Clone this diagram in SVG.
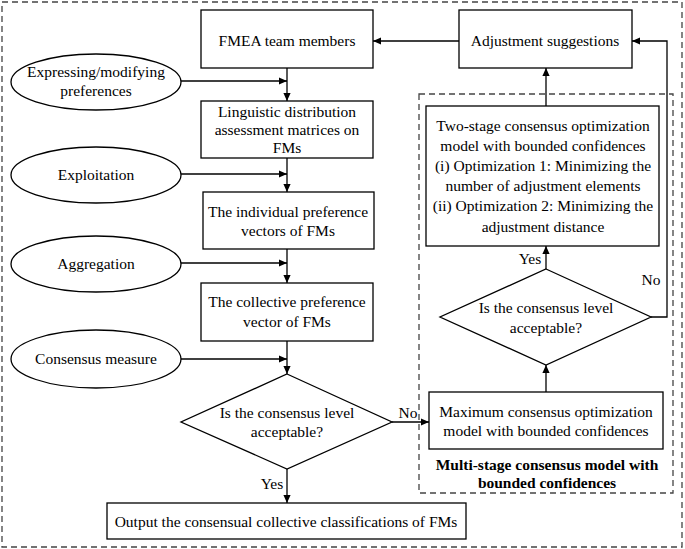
<svg xmlns="http://www.w3.org/2000/svg" width="685" height="549" viewBox="0 0 685 549">
<style>
text{font-family:"Liberation Serif","Times New Roman",serif;font-size:15.5px;fill:#000;text-anchor:middle}
.b{fill:#fff;stroke:#000;stroke-width:1.3}
.d{fill:none;stroke:#444;stroke-width:1.3;stroke-dasharray:6,4}
.c{fill:none;stroke:#000;stroke-width:1.3;marker-end:url(#ah)}
.bold{font-weight:bold}
</style>
<defs>
<marker id="ah" viewBox="0 0 10 10" refX="10" refY="5" markerWidth="8" markerHeight="8" markerUnits="userSpaceOnUse" orient="auto">
<path d="M0,0.5 L10,5 L0,9.5 z" fill="#000"/>
</marker>
</defs>
<rect x="2" y="2" width="680" height="545" class="d"/>
<rect id="group-multistage" x="419" y="94" width="254" height="399" class="d"/>
<g id="connectors">
<path class="c" d="M459,41 H373"/>
<path class="c" d="M287,68 V101"/>
<path class="c" d="M181,81 H287"/>
<path class="c" d="M287,158 V192"/>
<path class="c" d="M181,174 H287"/>
<path class="c" d="M287,249 V283"/>
<path class="c" d="M181,263 H287"/>
<path class="c" d="M287,341 V374"/>
<path class="c" d="M181,359 H287"/>
<path class="c" d="M287,469 V503"/>
<path class="c" d="M392,422 H429"/>
<path class="c" d="M546,392 V365"/>
<path class="c" d="M546,269 V246"/>
<path class="c" d="M546,106 V68"/>
<path class="c" d="M651,317 H667 V41 H632"/>
<text x="272" y="489">Yes</text>
<text x="408" y="418">No</text>
<text x="530" y="264">Yes</text>
<text x="651" y="285">No</text>
</g>
<g id="fmea-team">
<rect class="b" x="201" y="10" width="172" height="58"/>
<text x="287" y="46">FMEA team members</text>
</g>
<g id="adjustment">
<rect class="b" x="459" y="10" width="173" height="58"/>
<text x="545" y="46">Adjustment suggestions</text>
</g>
<g id="expressing">
<ellipse class="b" cx="96" cy="82" rx="85" ry="28"/>
<text x="96" y="77">Expressing/modifying</text>
<text x="96" y="96">preferences</text>
</g>
<g id="linguistic">
<rect class="b" x="201" y="101" width="172" height="57"/>
<text x="287" y="117">Linguistic distribution</text>
<text x="287" y="135">assessment matrices on</text>
<text x="287" y="153">FMs</text>
</g>
<g id="exploitation">
<ellipse class="b" cx="96" cy="175" rx="85" ry="28"/>
<text x="96" y="180">Exploitation</text>
</g>
<g id="individual">
<rect class="b" x="203" y="192" width="171" height="57"/>
<text x="288" y="217">The individual preference</text>
<text x="288" y="236">vectors of FMs</text>
</g>
<g id="aggregation">
<ellipse class="b" cx="96" cy="264" rx="85" ry="28"/>
<text x="96" y="269">Aggregation</text>
</g>
<g id="collective">
<rect class="b" x="201" y="283" width="172" height="58"/>
<text x="287" y="307">The collective preference</text>
<text x="287" y="327">vector of FMs</text>
</g>
<g id="consensus-measure">
<ellipse class="b" cx="96" cy="359" rx="85" ry="29"/>
<text x="96" y="364">Consensus measure</text>
</g>
<g id="decision1">
<polygon class="b" points="287,374 392,422 287,469 181,422"/>
<text x="287" y="418">Is the consensus level</text>
<text x="287" y="437">acceptable?</text>
</g>
<g id="output">
<rect class="b" x="107" y="503" width="359" height="36"/>
<text x="286" y="527">Output the consensual collective classifications of FMs</text>
</g>
<g id="maximum">
<rect class="b" x="429" y="392" width="234" height="57"/>
<text x="546" y="417">Maximum consensus optimization</text>
<text x="546" y="436">model with bounded confidences</text>
</g>
<g id="decision2">
<polygon class="b" points="546,269 651,317 546,365 440,317"/>
<text x="546" y="313">Is the consensus level</text>
<text x="546" y="333">acceptable?</text>
</g>
<g id="two-stage">
<rect class="b" x="426" y="106" width="233" height="140"/>
<text x="543" y="131">Two-stage consensus optimization</text>
<text x="543" y="151">model with bounded confidences</text>
<text x="543" y="171">(i) Optimization 1: Minimizing the</text>
<text x="543" y="191">number of adjustment elements</text>
<text x="543" y="211">(ii) Optimization 2: Minimizing the</text>
<text x="543" y="232">adjustment distance</text>
</g>
<g id="multistage-label">
<text class="bold" x="547" y="470">Multi-stage consensus model with</text>
<text class="bold" x="547" y="488">bounded confidences</text>
</g>
</svg>
